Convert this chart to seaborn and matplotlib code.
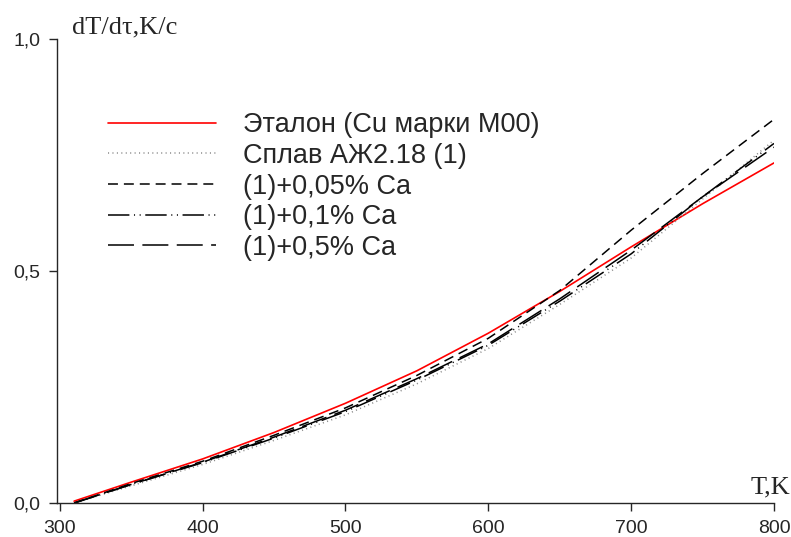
import matplotlib

matplotlib.use("Agg")
import matplotlib.pyplot as plt
import numpy as np
import pandas as pd
import seaborn as sns

sns.set_style("ticks")
plt.rcParams["font.family"] = ["Liberation Sans", "DejaVu Sans"]

# temperature, K
temps = [310, 350, 400, 450, 500, 550, 600, 650, 700, 750, 800]

# cooling rate dT/dtau, K/c
etalon = [0.004, 0.045, 0.095, 0.152, 0.215, 0.285, 0.366, 0.456, 0.552, 0.645, 0.733]
splav = [0.0, 0.037, 0.083, 0.135, 0.190, 0.257, 0.333, 0.428, 0.528, 0.655, 0.782]
ca_005 = [0.0, 0.042, 0.090, 0.146, 0.205, 0.275, 0.355, 0.458, 0.588, 0.710, 0.827]
ca_01 = [0.0, 0.040, 0.087, 0.140, 0.197, 0.265, 0.340, 0.435, 0.537, 0.660, 0.775]
ca_05 = [0.0, 0.040, 0.088, 0.142, 0.200, 0.268, 0.343, 0.440, 0.545, 0.660, 0.767]

labels = [
    "Эталон (Cu марки M00)",
    "Сплав АЖ2.18 (1)",
    "(1)+0,05% Ca",
    "(1)+0,1% Ca",
    "(1)+0,5% Ca",
]
series = [etalon, splav, ca_005, ca_01, ca_05]

styles = [
    dict(color="#ff0000", lw=1.2, dashes=None),
    dict(color="#8a8a8a", lw=1.1, dashes=(0.7, 2.2)),
    dict(color="black", lw=1.1, dashes=(6.5, 3.9)),
    dict(color="black", lw=1.1, dashes=(14, 3, 0.7, 3, 0.7, 3)),
    dict(color="black", lw=1.1, dashes=(17, 5.5)),
]

fig = plt.figure(figsize=(7.91, 5.37), dpi=100)
ax = fig.add_axes([0.072, 0.0633, 0.9065, 0.864])

for lab, vals, st in zip(labels, series, styles):
    df = pd.DataFrame({"T": temps, "v": vals})
    sns.lineplot(data=df, x="T", y="v", ax=ax, color=st["color"], lw=st["lw"], label=lab)
    line = ax.get_lines()[-1]
    if st["dashes"] is not None:
        line.set_dashes(st["dashes"])

ax.set_xlim(298, 800)
ax.set_ylim(0, 1.0)
ax.set_xticks([300, 400, 500, 600, 700, 800])
ax.set_yticks([0.0, 0.5, 1.0])
ax.set_yticklabels(["0,0", "0,5", "1,0"])
ax.tick_params(labelsize=14, length=6, width=1, direction="out", pad=6)
ax.set_xlabel("")
ax.set_ylabel("")
sns.despine(ax=ax)
for sp in ax.spines.values():
    sp.set_linewidth(1.0)

fig.text(0.091, 0.9385, "dT/d\u03c4,K/c", family="Liberation Serif", fontsize=19,
         ha="left", va="baseline")
fig.text(0.999, 0.082, "T,K", family="Liberation Serif", fontsize=19,
         ha="right", va="baseline")

leg = ax.legend(loc="upper left", bbox_to_anchor=(0.071, 0.842), frameon=False,
                fontsize=19.5, handlelength=4.0, handletextpad=1.0,
                labelspacing=0.17, borderpad=0, borderaxespad=0)

fig.savefig("out.png", dpi=100)
